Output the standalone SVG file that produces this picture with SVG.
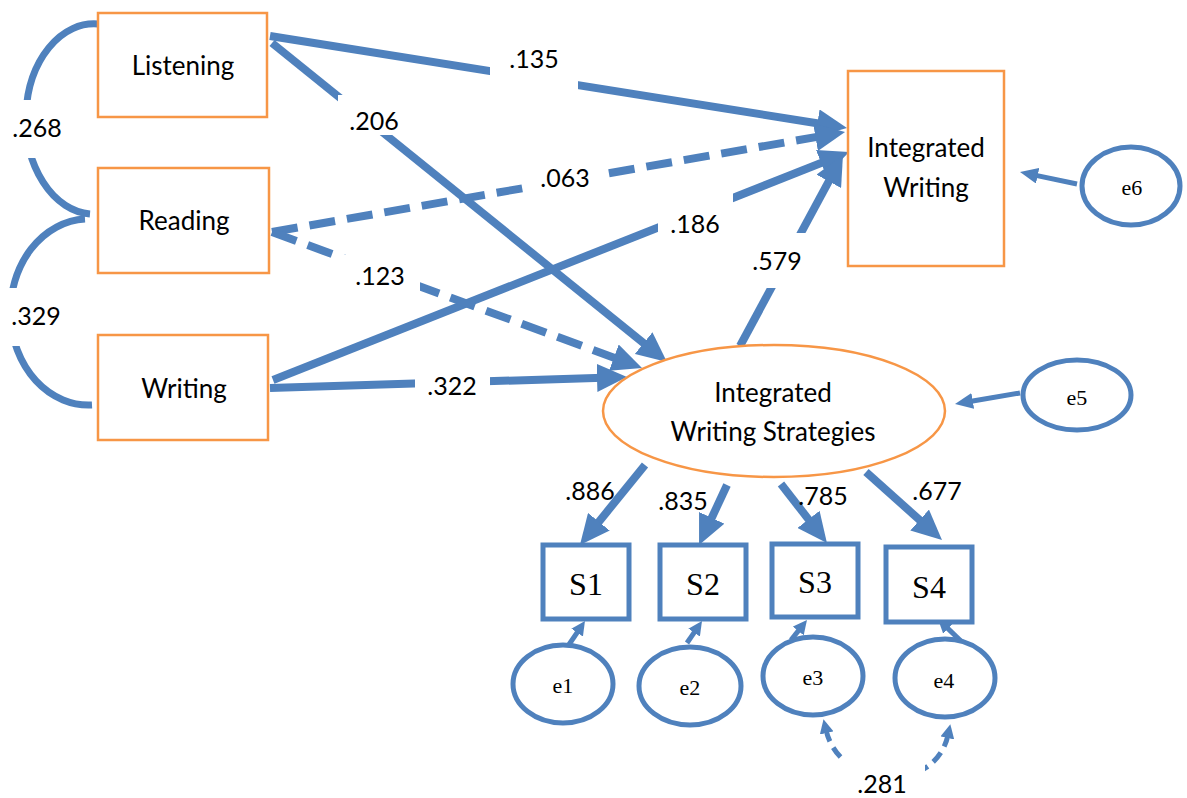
<svg xmlns="http://www.w3.org/2000/svg" width="1187" height="798" viewBox="0 0 1187 798">
<style>
.obs{fill:#fff;stroke:#F79646;stroke-width:2.5}
.ind{fill:#fff;stroke:#4F81BD;stroke-width:5}
.err{fill:#fff;stroke:#4F81BD;stroke-width:5}
.lbl{font-family:Lato,"Liberation Sans",sans-serif;font-size:26px;fill:#000;text-anchor:middle}
.num{font-family:Lato,"Liberation Sans",sans-serif;font-size:25px;fill:#000;text-anchor:middle}
.ser{font-family:"Liberation Serif","DejaVu Serif",serif;fill:#000;text-anchor:middle}
.big{fill:none;stroke:#4F81BD;stroke-width:8}
.mid{fill:none;stroke:#4F81BD;stroke-width:7}
.sm{fill:none;stroke:#4F81BD;stroke-width:5}
.dash{stroke-dasharray:26 12}
.bg{fill:#fff}
</style>
<defs>
<marker id="ah" markerUnits="userSpaceOnUse" markerWidth="30" markerHeight="28" refX="6" refY="14" orient="auto"><path d="M0,0 L30,14 L0,28 z" fill="#4F81BD"/></marker>
<marker id="ahm" markerUnits="userSpaceOnUse" markerWidth="18" markerHeight="16" refX="3" refY="8" orient="auto"><path d="M0,0 L18,8 L0,16 z" fill="#4F81BD"/></marker>
<marker id="ahs" markerUnits="userSpaceOnUse" markerWidth="14" markerHeight="14" refX="3" refY="7" orient="auto-start-reverse"><path d="M0,0 L14,7 L0,14 z" fill="#4F81BD"/></marker>
</defs>

<g id="connectors">
<path class="big" d="M270,36 L823.3,124.2" marker-end="url(#ah)"/>
<path class="big dash" d="M272,232 L821.4,136.1" marker-end="url(#ah)"/>
<path class="big" d="M273,380 L826.7,160.8" marker-end="url(#ah)"/>
<path class="big" d="M740,346 L831.6,176.1" marker-end="url(#ah)"/>
<path class="big" d="M272,43 L648.3,346.9" marker-end="url(#ah)"/>
<path class="big dash" d="M272,232 L619.5,359.7" marker-end="url(#ah)"/>
<path class="big" d="M270,388 L603,377.7" marker-end="url(#ah)"/>
<path class="mid" d="M98,24 A68 95 0 0 0 90,214"/>
<path class="mid" d="M85,219 A78 93 0 0 0 92,405"/>
<path class="big" d="M645,465 L595.1,526.4" marker-end="url(#ah)"/>
<path class="big" d="M727,485 L709.2,523.3" marker-end="url(#ah)"/>
<path class="big" d="M781,484 L812.2,524.1" marker-end="url(#ah)"/>
<path class="big" d="M866,472 L924.1,524" marker-end="url(#ah)"/>
<path class="sm" d="M568,646 L578.8,630.1" marker-end="url(#ahs)"/>
<path class="sm" d="M687,643 L695.8,630.1" marker-end="url(#ahs)"/>
<path class="sm" d="M791,640 L800.1,628.6" marker-end="url(#ahs)"/>
<path class="sm" d="M963,643 L945.9,626.6" marker-end="url(#ahs)"/>
<path class="sm" d="M1077,184 L1034.7,175.1" marker-end="url(#ahm)"/>
<path class="sm" d="M1020,393 L969.8,401.5" marker-end="url(#ahm)"/>
<path class="sm" style="stroke-dasharray:12 7" d="M826,730 C840,790 935,795 948,735" marker-start="url(#ahs)" marker-end="url(#ahs)"/>
</g>

<g id="labels">
<rect class="bg" x="8" y="100" width="60" height="58"/>
<text class="num" x="37" y="137">.268</text>
<rect class="bg" x="4" y="288" width="64" height="58"/>
<text class="num" x="36" y="325">.329</text>
<rect class="bg" x="338" y="95" width="74" height="40"/>
<text class="num" x="374" y="130">.206</text>
<rect class="bg" x="490" y="38" width="88" height="54"/>
<text class="num" x="534" y="68">.135</text>
<rect class="bg" x="528" y="158" width="74" height="42"/>
<text class="num" x="565" y="187">.063</text>
<rect class="bg" x="658" y="190" width="75" height="56"/>
<text class="num" x="695" y="233">.186</text>
<rect class="bg" x="750" y="233" width="56" height="55"/>
<text class="num" x="777" y="270">.579</text>
<rect class="bg" x="340" y="255" width="80" height="43"/>
<text class="num" x="380" y="285">.123</text>
<rect class="bg" x="415" y="365" width="75" height="40"/>
<text class="num" x="452" y="395">.322</text>
<rect class="bg" x="843" y="760" width="82" height="38"/>
<text class="num" x="882" y="793">.281</text>
<text class="num" x="590" y="500">.886</text>
<text class="num" x="683" y="510">.835</text>
<text class="num" x="823" y="505">.785</text>
<text class="num" x="937" y="500">.677</text>
</g>

<g id="listening"><rect class="obs" x="98" y="13" width="169" height="104"/><text class="lbl" x="183" y="75">Listening</text></g>
<g id="reading"><rect class="obs" x="98" y="168" width="171" height="105"/><text class="lbl" x="184" y="230">Reading</text></g>
<g id="writing"><rect class="obs" x="98" y="335" width="170" height="105"/><text class="lbl" x="184" y="398">Writing</text></g>
<g id="integrated-writing"><rect class="obs" x="848" y="71" width="156" height="195"/><text class="lbl" x="926" y="157">Integrated</text><text class="lbl" x="926" y="197">Writing</text></g>
<g id="iws"><ellipse class="obs" cx="774" cy="411" rx="171" ry="66"/><text class="lbl" x="773" y="402">Integrated</text><text class="lbl" x="773" y="441">Writing Strategies</text></g>

<g id="S1"><rect class="ind" x="543" y="545" width="86" height="74"/><text class="ser" x="586" y="595" font-size="32">S1</text></g>
<g id="S2"><rect class="ind" x="660" y="545" width="86" height="74"/><text class="ser" x="703" y="595" font-size="32">S2</text></g>
<g id="S3"><rect class="ind" x="772" y="544" width="86" height="73"/><text class="ser" x="815" y="593" font-size="32">S3</text></g>
<g id="S4"><rect class="ind" x="886" y="547" width="86" height="75"/><text class="ser" x="929" y="598" font-size="32">S4</text></g>

<g id="e1"><ellipse class="err" cx="563" cy="684" rx="50" ry="39"/><text class="ser" x="563" y="693" font-size="22">e1</text></g>
<g id="e2"><ellipse class="err" cx="690" cy="686" rx="51" ry="39"/><text class="ser" x="690" y="695" font-size="22">e2</text></g>
<g id="e3"><ellipse class="err" cx="813" cy="676" rx="50" ry="39"/><text class="ser" x="813" y="685" font-size="22">e3</text></g>
<g id="e4"><ellipse class="err" cx="945" cy="678" rx="50" ry="39"/><text class="ser" x="944" y="688" font-size="22">e4</text></g>
<g id="e5"><ellipse class="err" cx="1077" cy="395" rx="54" ry="35"/><text class="ser" x="1077" y="405" font-size="22">e5</text></g>
<g id="e6"><ellipse class="err" cx="1131" cy="186" rx="49" ry="39"/><text class="ser" x="1132" y="195" font-size="22">e6</text></g>
</svg>
